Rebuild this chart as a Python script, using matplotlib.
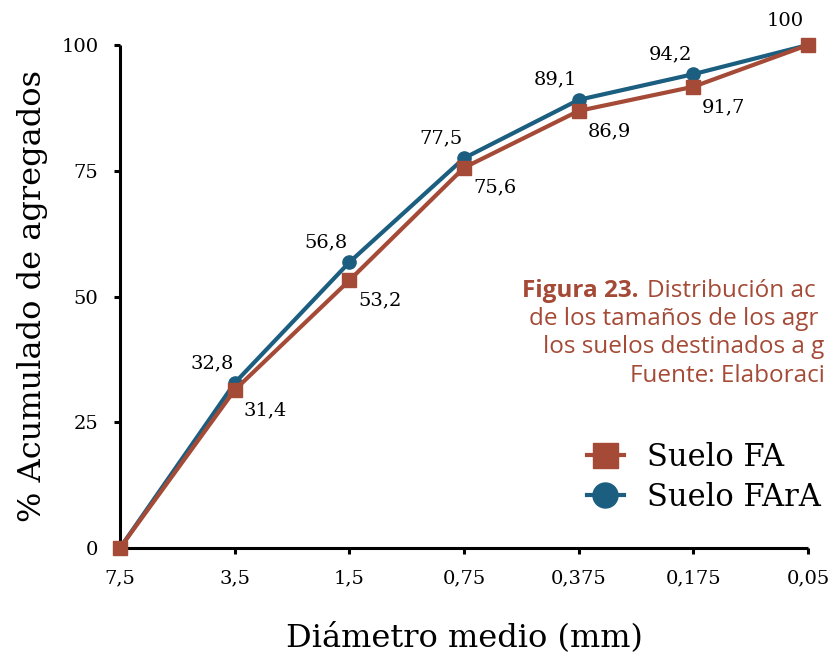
import matplotlib
matplotlib.use("Agg")
import matplotlib.pyplot as plt
from matplotlib.lines import Line2D
from matplotlib import font_manager

# Data
diametros = ["7,5", "3,5", "1,5", "0,75", "0,375", "0,175", "0,05"]
suelo_fa = [0, 31.4, 53.2, 75.6, 86.9, 91.7, 100]
suelo_fara = [0, 32.8, 56.8, 77.5, 89.1, 94.2, 100]
y_ticks = [0, 25, 50, 75, 100]

RED = "#A44A36"
BLUE = "#1B5E80"
SERIF = "DejaVu Serif"
_names = {f.name for f in font_manager.fontManager.ttflist}
CAPTION_FONT = "Open Sans" if "Open Sans" in _names else "DejaVu Sans"

W, H = 833, 658
fig = plt.figure(figsize=(W / 100, H / 100), dpi=100)
ax = fig.add_axes([120 / W, 1 - 548 / H, (808 - 120) / W, (548 - 45) / H])

x = list(range(len(diametros)))
ax.plot(x, suelo_fara, color=BLUE, lw=3, marker="o", ms=9.5, zorder=3, clip_on=False)
ax.plot(x, suelo_fa, color=RED, lw=3, marker="s", ms=9.5, zorder=4, clip_on=False)

ax.set_xlim(0, len(diametros) - 1)
ax.set_ylim(0, 100)
ax.set_xticks(x)
ax.set_xticklabels(diametros)
ax.set_yticks(y_ticks)
ax.set_yticklabels([str(v) for v in y_ticks])

for s in ("top", "right"):
    ax.spines[s].set_visible(False)
for s in ("left", "bottom"):
    ax.spines[s].set_linewidth(2.2)
    ax.spines[s].set_capstyle("butt")
ax.tick_params(axis="both", direction="out", width=2.2, length=4.5,
               labelsize=14, pad=11)
for lab in ax.get_xticklabels() + ax.get_yticklabels():
    lab.set_fontfamily(SERIF)

def fmt(v):
    return ("%g" % v).replace(".", ",")

# value labels: FArA above-left, FA below-right
for i, (a, b) in enumerate(zip(suelo_fa, suelo_fara)):
    if i == 0:
        continue
    dy = 11 if i == len(x) - 1 else 8
    ax.annotate(fmt(b), (i, b), xytext=(-16.5, dy), textcoords="offset points",
                ha="center", va="bottom", fontsize=14, family=SERIF)
    if i == len(x) - 1:
        continue
    ax.annotate(fmt(a), (i, a), xytext=(22, -8), textcoords="offset points",
                ha="center", va="top", fontsize=14, family=SERIF)

ax.set_xlabel("Diámetro medio (mm)", family=SERIF, fontsize=23)
ax.set_ylabel("% Acumulado de agregados", family=SERIF, fontsize=23)
ax.xaxis.set_label_coords(0.5, (548 - 622) / 503)
ax.yaxis.set_label_coords((48 - 120) / 688, 0.5)

# legend
handles = [
    Line2D([], [], color=RED, lw=3, marker="s", ms=18),
    Line2D([], [], color=BLUE, lw=3, marker="o", ms=18),
]
ax.legend(handles, ["Suelo FA", "Suelo FArA"], loc="upper left",
          bbox_to_anchor=(587 / W, 1 - 442 / H), bbox_transform=fig.transFigure,
          frameon=False, borderpad=0, borderaxespad=0, handlelength=1.2,
          prop={"family": SERIF, "size": 22}, labelspacing=0.3, handletextpad=0.75)

# figure caption (runs off the right edge of the figure)
cap = dict(color=RED, fontsize=17.5, family=CAPTION_FONT, va="baseline", ha="left")
fig.text(522 / W, 1 - 297 / H, "Figura 23.", fontweight="bold", **cap)
fig.text(647 / W, 1 - 297 / H, "Distribución ac", **cap)
fig.text(529 / W, 1 - 325 / H, "de los tamaños de los agr", **cap)
fig.text(543 / W, 1 - 353 / H, "los suelos destinados a g", **cap)
fig.text(630 / W, 1 - 382 / H, "Fuente: Elaboraci", **cap)

fig.savefig("out.png", dpi=100)
